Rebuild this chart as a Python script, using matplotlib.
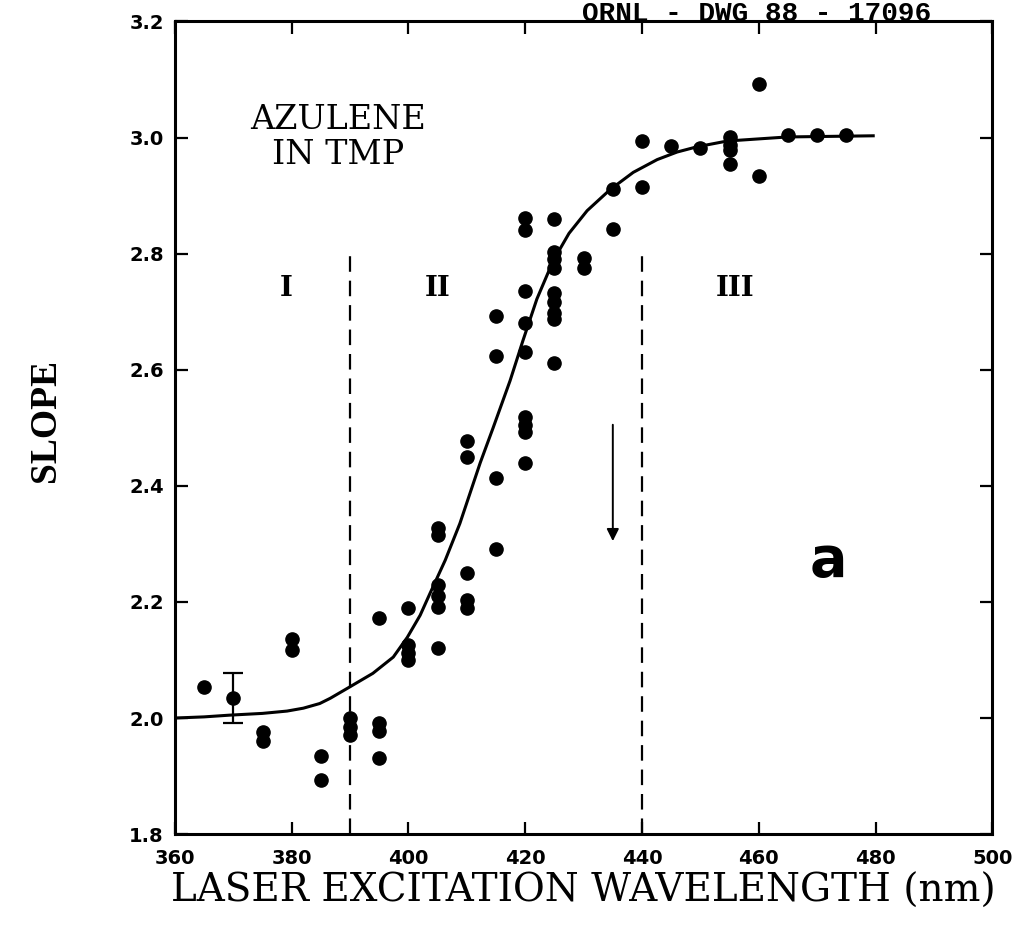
"""Slope vs laser excitation wavelength, azulene in TMP (ORNL-DWG 88-17096, panel a)."""
import matplotlib
matplotlib.use("Agg")
import matplotlib.pyplot as plt

wavelength = [365, 370,
              375, 375, 380, 380, 385, 385,
              390, 390, 390, 395, 395, 395, 395,
              400, 400, 400, 400,
              405, 405, 405, 405, 405, 405,
              410, 410, 410, 410, 410,
              415, 415, 415, 415,
              420, 420, 420, 420, 420, 420, 420, 420, 420,
              425, 425, 425, 425, 425, 425, 425, 425, 425,
              430, 430, 435, 435, 440, 440, 445, 450,
              455, 455, 455, 455, 460, 460, 465, 470, 475]
slope = [2.053, 2.034,
         1.976, 1.960, 2.136, 2.117, 1.934, 1.893,
         2.000, 1.984, 1.970, 1.991, 1.977, 1.931, 2.172,
         2.190, 2.125, 2.112, 2.100,
         2.328, 2.316, 2.229, 2.210, 2.192, 2.120,
         2.478, 2.449, 2.249, 2.204, 2.189,
         2.692, 2.624, 2.413, 2.292,
         2.862, 2.840, 2.736, 2.681, 2.630, 2.518, 2.504, 2.492, 2.439,
         2.860, 2.803, 2.790, 2.776, 2.733, 2.716, 2.698, 2.688, 2.612,
         2.793, 2.776, 2.912, 2.843, 2.994, 2.914, 2.986, 2.982,
         3.001, 2.988, 2.979, 2.955, 3.093, 2.934, 3.005, 3.005, 3.005]

# error bar on the 370 nm point
err_wl = [370]
err_slope = [2.034]
err_size = [0.043]

# fitted curve
fit_wl = [360, 365, 369.4, 375, 379.2, 382, 384.8, 386.6, 389.5, 393.9,
          397.4, 399.8, 402, 403.7, 406.3, 408.8, 412.3, 414.5, 417.4, 419.6,
          422, 424.8, 427.5, 430.6, 434.5, 438.5, 442.6, 446, 449.4, 454.6,
          464.9, 479.6]
fit_slope = [2.000, 2.002, 2.005, 2.008, 2.012, 2.017, 2.025, 2.034, 2.051,
             2.077, 2.105, 2.139, 2.177, 2.215, 2.272, 2.335, 2.440, 2.500,
             2.581, 2.650, 2.722, 2.788, 2.835, 2.874, 2.910, 2.940, 2.962,
             2.975, 2.984, 2.994, 3.001, 3.003]

region_bounds = [390, 440]
region_labels = ["I", "II", "III"]
region_label_x = [379, 405, 456]

fig = plt.figure(figsize=(10.23, 9.32), dpi=100)
ax = fig.add_axes([0.171, 0.105, 0.799, 0.872])

ax.plot(fit_wl, fit_slope, color="black", lw=2.2, zorder=2)
ax.plot(wavelength, slope, "o", color="black", ms=9.5, zorder=3)
ax.errorbar(err_wl, err_slope, yerr=err_size, fmt="none", ecolor="black",
            elinewidth=1.6, capsize=7, capthick=1.6, zorder=3)

for xb in region_bounds:
    ax.plot([xb, xb], [1.8, 2.81], color="black", lw=1.6,
            dashes=(7, 4), zorder=1)

for lab, xl in zip(region_labels, region_label_x):
    ax.text(xl, 2.74, lab, ha="center", va="center", fontsize=20,
            family="DejaVu Serif", fontweight="bold")

ax.text(388, 3.0, "AZULENE\nIN TMP", ha="center", va="center",
        fontsize=24, family="DejaVu Serif", linespacing=1.12)

ax.annotate("", xy=(435, 2.30), xytext=(435, 2.51),
            arrowprops=dict(arrowstyle="-|>", color="black", lw=1.4,
                            mutation_scale=18))

ax.text(472, 2.27, "a", ha="center", va="center", fontsize=40,
        fontweight="bold", family="DejaVu Sans")

ax.set_xlim(360, 500)
ax.set_ylim(1.8, 3.2)
ax.set_xticks(range(360, 501, 20))
ax.set_yticks([1.8, 2.0, 2.2, 2.4, 2.6, 2.8, 3.0, 3.2])
ax.set_yticklabels(["1.8", "2.0", "2.2", "2.4", "2.6", "2.8", "3.0", "3.2"])
ax.tick_params(direction="in", length=9, width=1.6, top=True, right=True,
               labelsize=14, pad=8)
ax.tick_params(axis="x", pad=11)
for lbl in ax.get_xticklabels() + ax.get_yticklabels():
    lbl.set_fontweight("bold")
for sp in ax.spines.values():
    sp.set_linewidth(2.2)

ax.set_xlabel("LASER EXCITATION WAVELENGTH (nm)", fontsize=28,
              family="DejaVu Serif", labelpad=3)
ax.set_ylabel("SLOPE", fontsize=27, family="Liberation Serif",
              fontweight="bold")
ax.yaxis.set_label_coords(-0.137, 0.509)

fig.text(0.740, 0.999, "ORNL - DWG 88 - 17096", ha="center", va="top",
         fontsize=20, family="Liberation Mono", fontweight="bold")

fig.savefig("out.png", dpi=100)
